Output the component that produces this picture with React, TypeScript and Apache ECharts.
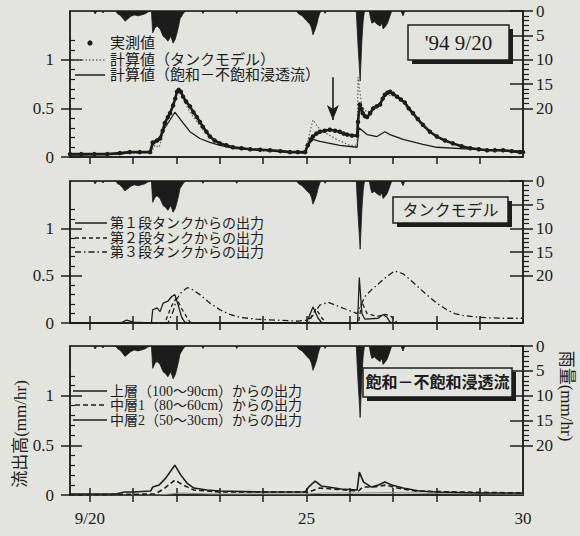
import React, { useEffect, useRef } from 'react';
import * as echarts from 'echarts';

// ---------- axes ----------
const X_MIN = 19.54;
const X_MAX = 30;
const dayTicks = [20, 21, 22, 23, 24, 25, 26, 27, 28, 29];
const dayLabels = [20, 25, 30];
const flowMajor = [0, 0.5, 1];
const flowMinor = [0.1, 0.2, 0.3, 0.4, 0.6, 0.7, 0.8, 0.9, 1.1, 1.2];
const rainMajor = [0, 5, 10, 15, 20];
const rainMinor = [1, 2, 3, 4, 6, 7, 8, 9, 11, 12, 13, 14, 16, 17, 18, 19];

// ---------- rainfall (mm/hr), [day, value] ----------
const rain: number[][] = [
  [19.54, 0], [20.08, 0], [20.12, 0.6], [20.16, 0], [20.27, 0], [20.3, 0.4], [20.34, 0],
  [20.6, 0], [20.64, 0.6], [20.69, 0.8], [20.76, 1.5], [20.81, 2.1], [20.85, 1.8], [20.88, 1.6],
  [20.93, 1.2], [20.97, 1.0], [21.03, 0.8], [21.11, 1.0], [21.19, 0.8], [21.27, 0.6], [21.34, 0.2], [21.4, 0],
  [21.42, 0], [21.45, 4.5], [21.5, 3.5], [21.55, 3.1], [21.62, 3.7], [21.69, 5.2], [21.75, 5.6],
  [21.8, 6.2], [21.87, 5.2], [21.92, 6.6], [21.97, 5.8], [22.01, 4.5], [22.05, 3.0], [22.08, 1.6],
  [22.15, 0.6], [22.2, 0],
  [22.58, 0], [22.61, 0.5], [22.64, 0],
  [23.36, 0], [23.39, 0.5], [23.42, 0],
  [24.77, 0], [24.82, 0.6], [24.9, 1.0], [24.96, 1.6], [25.01, 2.1], [25.08, 2.7], [25.12, 3.6],
  [25.15, 4.9], [25.2, 3.8], [25.24, 2.7], [25.27, 1.5], [25.31, 0.4], [25.34, 0],
  [25.4, 0], [25.43, 0.5], [25.46, 0],
  [26.15, 0], [26.19, 7], [26.24, 14.4], [26.28, 6], [26.31, 2], [26.34, 0],
  [26.45, 0], [26.48, 1.5], [26.51, 2.5], [26.57, 2.2], [26.63, 2.7], [26.7, 3.1], [26.74, 2.5],
  [26.77, 3.7], [26.81, 3.3], [26.86, 2.7], [26.9, 1.8], [26.93, 1.0], [26.97, 0],
  [27.18, 0], [27.23, 1.0], [27.27, 0], [30, 0],
];

// ---------- panel 1: observed / computed (mm/hr) ----------
const observed: number[][] = [
  [19.54, 0.03], [19.8, 0.03], [20.1, 0.03], [20.4, 0.03], [20.69, 0.04], [20.92, 0.05], [21.15, 0.05],
  [21.39, 0.05], [21.45, 0.15], [21.55, 0.17], [21.62, 0.19], [21.68, 0.27], [21.73, 0.35], [21.8, 0.41],
  [21.85, 0.45], [21.92, 0.53], [21.97, 0.6], [22.01, 0.67], [22.05, 0.69], [22.1, 0.67], [22.15, 0.62],
  [22.22, 0.57], [22.31, 0.52], [22.39, 0.46], [22.47, 0.41], [22.54, 0.36], [22.61, 0.31], [22.69, 0.26],
  [22.77, 0.21], [22.88, 0.17], [23.0, 0.14], [23.15, 0.12], [23.3, 0.1], [23.5, 0.09], [23.7, 0.08],
  [23.93, 0.075], [24.16, 0.07], [24.4, 0.06], [24.62, 0.05], [24.8, 0.05], [24.97, 0.05], [25.03, 0.12],
  [25.1, 0.18], [25.15, 0.21], [25.23, 0.24], [25.31, 0.26], [25.42, 0.27], [25.54, 0.28], [25.66, 0.27],
  [25.77, 0.26], [25.86, 0.24], [25.94, 0.23], [26.05, 0.22], [26.17, 0.22], [26.19, 0.36], [26.23, 0.54],
  [26.27, 0.49], [26.3, 0.45], [26.35, 0.42], [26.4, 0.41], [26.47, 0.45], [26.54, 0.5], [26.62, 0.52],
  [26.7, 0.54], [26.76, 0.6], [26.81, 0.64], [26.87, 0.66], [26.93, 0.67], [27.0, 0.65], [27.09, 0.62],
  [27.18, 0.59], [27.27, 0.56], [27.36, 0.5], [27.46, 0.45], [27.57, 0.39], [27.69, 0.33], [27.85, 0.26],
  [28.01, 0.21], [28.2, 0.17], [28.38, 0.14], [28.58, 0.11], [28.78, 0.09], [28.98, 0.08], [29.17, 0.07],
  [29.35, 0.07], [29.54, 0.07], [29.74, 0.06], [29.93, 0.05], [30, 0.05],
];
const calcTank: number[][] = [
  [19.54, 0.03], [20.5, 0.03], [21.0, 0.04], [21.42, 0.05], [21.5, 0.12], [21.6, 0.1], [21.73, 0.3],
  [21.85, 0.45], [22.01, 0.66], [22.08, 0.68], [22.15, 0.6], [22.31, 0.46], [22.61, 0.28], [22.84, 0.19],
  [23.0, 0.14], [23.3, 0.1], [24.0, 0.06], [24.97, 0.05], [25.05, 0.2], [25.15, 0.38], [25.31, 0.28],
  [25.7, 0.18], [26.0, 0.12], [26.17, 0.12], [26.19, 0.82], [26.28, 0.52], [26.4, 0.46], [26.63, 0.52],
  [26.86, 0.64], [27.09, 0.62], [27.27, 0.54], [27.46, 0.43], [27.69, 0.31], [28.01, 0.2], [28.38, 0.13],
  [28.78, 0.09], [29.17, 0.07], [29.93, 0.05], [30, 0.05],
];
const calcSeepage: number[][] = [
  [19.54, 0.02], [20.7, 0.03], [21.0, 0.05], [21.4, 0.05], [21.45, 0.12], [21.6, 0.19], [21.73, 0.3],
  [21.85, 0.38], [21.96, 0.46], [22.05, 0.41], [22.15, 0.35], [22.31, 0.26], [22.54, 0.19], [22.77, 0.15],
  [23.0, 0.12], [23.3, 0.09], [24.0, 0.07], [24.97, 0.04], [25.03, 0.12], [25.15, 0.18], [25.31, 0.16],
  [25.77, 0.12], [26.17, 0.1], [26.21, 0.3], [26.4, 0.23], [26.63, 0.21], [26.81, 0.26], [26.93, 0.23],
  [27.23, 0.18], [27.69, 0.13], [28.01, 0.1], [28.78, 0.08], [29.93, 0.06], [30, 0.06],
];
const arrowDay = 25.61;
const arrowFrom = 0.82;
const arrowTo = 0.38;

// ---------- panel 2: tank outputs ----------
const tank1: number[][] = [
  [19.54, 0], [20.7, 0], [20.85, 0.03], [21.0, 0.01], [21.42, 0], [21.45, 0.14], [21.55, 0.16],
  [21.62, 0.12], [21.69, 0.21], [21.8, 0.23], [21.89, 0.28], [21.96, 0.3], [22.03, 0.2], [22.12, 0.06],
  [22.19, 0.01], [22.3, 0], [25.0, 0], [25.15, 0.17], [25.27, 0.05], [25.36, 0], [26.18, 0], [26.22, 0.48],
  [26.28, 0.1], [26.35, 0.04], [26.66, 0.05], [26.77, 0.09], [26.86, 0.06], [26.93, 0.01], [27.0, 0], [30, 0],
];
const tank2: number[][] = [
  [19.54, 0], [21.73, 0], [21.85, 0.14], [21.92, 0.21], [22.0, 0.26], [22.12, 0.15], [22.24, 0.06],
  [22.31, 0.01], [22.4, 0], [25.05, 0], [25.13, 0.08], [25.22, 0.15], [25.36, 0.05], [25.47, 0], [26.2, 0],
  [26.28, 0.22], [26.4, 0.1], [26.63, 0.07], [26.81, 0.09], [26.93, 0.08], [27.04, 0.03], [27.1, 0], [30, 0],
];
const tank3: number[][] = [
  [19.54, 0], [21.8, 0], [21.92, 0.12], [22.0, 0.25], [22.12, 0.33], [22.24, 0.37], [22.31, 0.37],
  [22.54, 0.3], [22.77, 0.21], [23.0, 0.14], [23.23, 0.09], [23.46, 0.06], [23.85, 0.04], [24.32, 0.03],
  [24.8, 0.02], [25.03, 0.03], [25.15, 0.08], [25.31, 0.19], [25.5, 0.22], [25.77, 0.17], [26.17, 0.1],
  [26.25, 0.18], [26.35, 0.28], [26.5, 0.35], [26.7, 0.43], [26.88, 0.5], [27.04, 0.55], [27.23, 0.52],
  [27.46, 0.43], [27.65, 0.35], [27.85, 0.27], [28.04, 0.2], [28.24, 0.14], [28.42, 0.1], [28.61, 0.08],
  [28.99, 0.06], [29.5, 0.05], [30, 0.05],
];

// ---------- panel 3: layer outputs ----------
const layerUpper: number[][] = [
  [19.54, 0.01], [20.6, 0.01], [20.8, 0.03], [21.0, 0.03], [21.4, 0.04], [21.45, 0.08], [21.6, 0.1],
  [21.75, 0.17], [21.96, 0.3], [22.1, 0.2], [22.24, 0.12], [22.4, 0.07], [22.7, 0.05], [23.0, 0.04],
  [24.0, 0.03], [24.97, 0.03], [25.05, 0.08], [25.2, 0.14], [25.35, 0.09], [25.8, 0.06], [26.17, 0.05],
  [26.22, 0.23], [26.32, 0.13], [26.5, 0.08], [26.66, 0.1], [26.81, 0.13], [26.97, 0.1], [27.23, 0.07],
  [27.6, 0.04], [28.0, 0.03], [29.0, 0.02], [30, 0.02],
];
const layerMid1: number[][] = [
  [19.54, 0.0], [21.5, 0.01], [21.7, 0.06], [21.96, 0.15], [22.15, 0.1], [22.4, 0.05], [23.0, 0.03],
  [25.05, 0.03], [25.3, 0.07], [25.6, 0.06], [26.2, 0.04], [26.3, 0.08], [26.55, 0.08], [26.83, 0.1],
  [27.1, 0.07], [27.5, 0.04], [28.5, 0.03], [30, 0.02],
];
const layerMid2: number[][] = [
  [19.54, 0.0], [21.6, 0.0], [22.1, 0.02], [22.8, 0.01], [25.0, 0.01], [25.4, 0.02], [26.3, 0.02],
  [26.9, 0.025], [28.0, 0.015], [30, 0.01],
];

// ---------- texts ----------
const legend1 = ['実測値', '計算値（タンクモデル）', '計算値（飽和－不飽和浸透流）'];
const legend2 = ['第１段タンクからの出力', '第２段タンクからの出力', '第３段タンクからの出力'];
const legend3 = ['上層（100～90cm）からの出力', '中層1（80～60cm）からの出力', '中層2（50～30cm）からの出力'];
const panelTitles = ["'94 9/20", 'タンクモデル', '飽和－不飽和浸透流'];
const yNameLeft = '流出高(mm/hr)';
const yNameRight = '雨量(mm/hr)';

const INK = '#1c1c1c';
const BG = '#e4e4df';
const SERIF = '"Liberation Serif", "Noto Sans CJK JP", serif';
const JP = '"Liberation Serif", "Noto Sans CJK JP", sans-serif';

const panels = [
  { top: 11, height: 146 },
  { top: 181, height: 142 },
  { top: 346, height: 149 },
];

function buildOption() {
  const grid: any[] = [];
  const xAxis: any[] = [];
  const yAxis: any[] = [];
  const series: any[] = [];
  const tickStyle = { color: INK, width: 1.5 };

  panels.forEach((pn, p) => {
    grid.push({ left: 70, right: 57, top: pn.top, height: pn.height, show: true, borderColor: INK, borderWidth: 1.5, backgroundColor: 'transparent' });
    xAxis.push({
      gridIndex: p, type: 'value', min: X_MIN, max: X_MAX, position: 'bottom',
      axisLine: { show: true, lineStyle: tickStyle },
      axisTick: { show: true, inside: false, length: 7, customValues: dayTicks, lineStyle: tickStyle },
      axisLabel: {
        show: p === 2, customValues: dayLabels, margin: 15, color: INK, fontFamily: SERIF, fontSize: 17,
        formatter: (v: number) => (Math.abs(v - 20) < 1e-6 ? '9/20' : String(Math.round(v))),
      },
      splitLine: { show: false },
    });
    xAxis.push({
      gridIndex: p, type: 'value', min: X_MIN, max: X_MAX, position: 'top',
      axisLine: { show: false },
      axisTick: { show: p > 0, inside: false, length: 7, customValues: dayTicks, lineStyle: tickStyle },
      axisLabel: { show: false }, splitLine: { show: false },
    });
    const base = { gridIndex: p, type: 'value', splitLine: { show: false } };
    yAxis.push({
      ...base, min: 0, max: 1.5, position: 'left',
      axisLine: { show: true, lineStyle: tickStyle },
      axisTick: { show: true, inside: true, length: 12, customValues: flowMajor, lineStyle: tickStyle },
      axisLabel: { show: true, customValues: flowMajor, margin: 16, color: INK, fontFamily: SERIF, fontSize: 17, formatter: (v: number) => String(v) },
    });
    yAxis.push({
      ...base, min: 0, max: 1.5, position: 'left', axisLine: { show: false },
      axisTick: { show: true, inside: false, length: 9, customValues: flowMajor, lineStyle: tickStyle },
      axisLabel: { show: false },
    });
    yAxis.push({
      ...base, min: 0, max: 1.5, position: 'left', axisLine: { show: false },
      axisTick: { show: true, inside: true, length: 5, customValues: flowMinor, lineStyle: { color: INK, width: 1.2 } },
      axisLabel: { show: false },
    });
    yAxis.push({
      ...base, min: 0, max: 30, inverse: true, position: 'right',
      axisLine: { show: true, lineStyle: tickStyle },
      axisTick: { show: true, inside: true, length: 13, customValues: rainMajor, lineStyle: tickStyle },
      axisLabel: { show: true, customValues: rainMajor, margin: 13, color: INK, fontFamily: SERIF, fontSize: 17 },
    });
    yAxis.push({
      ...base, min: 0, max: 30, inverse: true, position: 'right', axisLine: { show: false },
      axisTick: { show: true, inside: false, length: 10, customValues: rainMajor, lineStyle: tickStyle },
      axisLabel: { show: false },
    });
    yAxis.push({
      ...base, min: 0, max: 30, inverse: true, position: 'right', axisLine: { show: false },
      axisTick: { show: true, inside: false, length: 6, customValues: rainMinor, lineStyle: { color: INK, width: 1.2 } },
      axisLabel: { show: false },
    });

    series.push({
      type: 'line', name: 'rain' + p, xAxisIndex: 2 * p, yAxisIndex: 6 * p + 3, data: rain,
      symbol: 'none', lineStyle: { color: INK, width: 0.8 }, areaStyle: { color: INK, opacity: 1, origin: 'start' },
      z: 1, silent: true,
    });
  });

  const line = (p: number, data: number[][], style: any, extra: any = {}) => ({
    type: 'line', xAxisIndex: 2 * p, yAxisIndex: 6 * p, data, symbol: 'none', silent: true,
    lineStyle: { color: INK, width: 1.3, ...style }, z: 3, ...extra,
  });

  series.push(line(0, calcSeepage, { width: 1.3 }));
  series.push(line(0, calcTank, { type: [1.5, 2], color: '#6a6a6a', width: 1.3 }));
  series.push(line(0, observed, { width: 2.6 }, {
    symbol: 'circle', symbolSize: 4.5, showAllSymbol: true, itemStyle: { color: INK },
    markLine: {
      silent: true, symbol: ['none', 'arrow'], symbolSize: [9, 15], label: { show: false },
      lineStyle: { color: INK, width: 1.6, type: 'solid' },
      data: [[{ coord: [arrowDay, arrowFrom] }, { coord: [arrowDay, arrowTo] }]],
    },
  }));
  series.push(line(1, tank1, { width: 1.3 }));
  series.push(line(1, tank2, { type: [4, 3], width: 1.3 }));
  series.push(line(1, tank3, { type: [6, 3, 1.5, 3], width: 1.3 }));
  series.push(line(2, layerMid2, { width: 1.1, color: '#8a8a8a' }));
  series.push(line(2, layerMid1, { type: [5, 3], width: 1.6 }));
  series.push(line(2, layerUpper, { width: 1.6 }));

  const g: any[] = [];
  const txt = (x: number, y: number, text: string, size = 14, extra: any = {}) => ({
    type: 'text', x, y, z: 50,
    style: { text, fill: INK, fontFamily: JP, fontSize: size, lineHeight: size, verticalAlign: 'middle', align: 'left', ...extra },
  });
  const seg = (x1: number, y: number, x2: number, style: any) => ({
    type: 'line', z: 50, shape: { x1, y1: y, x2, y2: y }, style: { stroke: INK, lineWidth: 1.5, ...style },
  });
  g.push({ type: 'circle', z: 50, shape: { cx: 90, cy: 43, r: 2.6 }, style: { fill: INK } });
  g.push(txt(110, 43, legend1[0], 15));
  g.push(seg(75, 60, 105, { stroke: '#6a6a6a', lineDash: [1.5, 2], lineWidth: 1.3 }));
  g.push(txt(110, 60, legend1[1], 15));
  g.push(seg(75, 75, 105, {}));
  g.push(txt(110, 75, legend1[2], 15));

  g.push(seg(75, 223, 107, {}));
  g.push(txt(110, 223, legend2[0]));
  g.push(seg(75, 238, 107, { lineDash: [4, 3] }));
  g.push(txt(110, 238, legend2[1]));
  g.push(seg(75, 252, 107, { lineDash: [6, 3, 1.5, 3] }));
  g.push(txt(110, 252, legend2[2]));

  g.push(seg(73, 391, 107, { lineWidth: 1.6 }));
  g.push(txt(110, 391, legend3[0]));
  g.push(seg(75, 405, 107, { lineDash: [5, 3], lineWidth: 1.6 }));
  g.push(txt(110, 405, legend3[1]));
  g.push(seg(73, 420, 107, { lineWidth: 1.3 }));
  g.push(txt(110, 420, legend3[2]));

  const box = (x: number, y: number, w: number, h: number, text: string, font: any) => {
    g.push({ type: 'rect', z: 60, shape: { x: x + 4, y: y + 4, width: w, height: h }, style: { fill: INK } });
    g.push({ type: 'rect', z: 61, shape: { x, y, width: w, height: h }, style: { fill: BG, stroke: INK, lineWidth: 1.5 } });
    g.push({
      type: 'text', z: 62, x: x + w / 2, y: y + h / 2,
      style: { text, fill: INK, align: 'center', verticalAlign: 'middle', ...font },
    });
  };
  box(408, 25, 101, 35, panelTitles[0], { fontFamily: SERIF, fontSize: 21 });
  box(393, 197, 115, 26, panelTitles[1], { fontFamily: JP, fontSize: 16 });
  box(363, 368, 149, 29, panelTitles[2], { fontFamily: JP, fontSize: 16, fontWeight: 'bold' });

  g.push({
    type: 'text', z: 50, x: 20, y: 434, rotation: Math.PI / 2,
    style: { text: yNameLeft, fill: INK, fontFamily: JP, fontSize: 17, align: 'center', verticalAlign: 'middle' },
  });
  g.push({
    type: 'text', z: 50, x: 566, y: 396, rotation: -Math.PI / 2,
    style: { text: yNameRight, fill: INK, fontFamily: JP, fontSize: 17, align: 'center', verticalAlign: 'middle' },
  });

  return { animation: false, backgroundColor: BG, grid, xAxis, yAxis, series, graphic: g };
}

export default function App() {
  const ref = useRef<HTMLDivElement>(null);
  useEffect(() => {
    document.body.style.margin = '0';
    document.body.style.background = BG;
    const chart = echarts.init(ref.current!, undefined, { renderer: 'svg' });
    chart.setOption(buildOption() as any);
    return () => chart.dispose();
  }, []);
  return <div ref={ref} style={{ position: 'fixed', left: 0, top: 0, width: 580, height: 536, background: BG }} />;
}
